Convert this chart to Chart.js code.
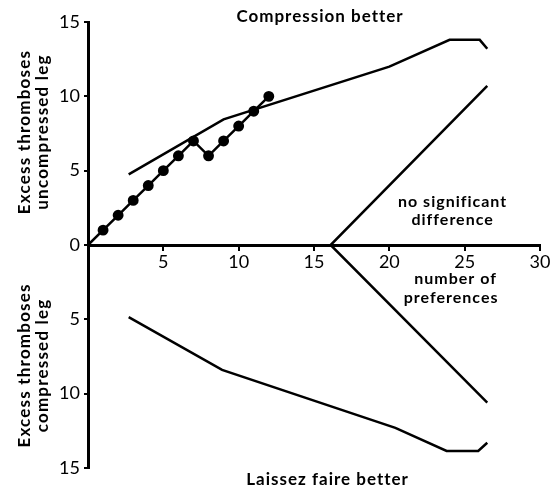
<!DOCTYPE html>
<html>
<head>
<meta charset="utf-8">
<script src="https://cdn.jsdelivr.net/npm/chart.js@4"></script>
<style>
  html, body { margin: 0; padding: 0; background: #fff; }
  #wrap { width: 555px; height: 488px; }
</style>
</head>
<body>
<div id="wrap"><canvas id="chart" width="555" height="488"></canvas></div>
<script>
// Observed path: number of preferences vs cumulative excess thromboses
const observedX = [0, 1, 2, 3, 4, 5, 6, 7, 8, 9, 10, 11, 12];
const observedY = [0, 1, 2, 3, 4, 5, 6, 7, 6, 7, 8, 9, 10];

// Upper boundary (compression better)
const upperX = [2.7, 9, 20, 24, 26, 26.5];
const upperY = [4.75, 8.45, 12, 13.8, 13.8, 13.2];

// Lower boundary (laissez faire better)
const lowerX = [2.7, 8.9, 20.4, 23.8, 25.9, 26.5];
const lowerY = [-4.85, -8.4, -12.3, -13.85, -13.85, -13.3];

// Middle wedge (no significant difference)
const middleX = [26.5, 16.1, 26.5];
const middleY = [10.7, 0, -10.6];

// Axis ticks
const xTicks = [0, 5, 10, 15, 20, 25, 30];
const yTicks = [-15, -10, -5, 0, 5, 10, 15];

const FONT = 'Lato';

function pts(xs, ys) {
    return xs.map((x, i) => ({ x: x, y: ys[i] }));
}

const lineStyle = {
    borderColor: '#000',
    borderWidth: 2.5,
    pointRadius: 0,
    showLine: true,
    tension: 0,
    clip: false
};

// Free text placed in data coordinates
const notes = [
    { text: 'Compression better', x: 15.4, py: 17, size: 17 },
    { text: 'Laissez faire better', x: 15.9, py: 480, size: 17 },
    { text: 'no significant', x: 24.2, y: 2.9, size: 16 },
    { text: 'difference', x: 24.2, y: 1.7, size: 16 },
    { text: 'number of', x: 24.4, y: -2.3, size: 16 },
    { text: 'preferences', x: 24.1, y: -3.55, size: 16 }
];

const sideTitles = [
    { lines: ['Excess thromboses', 'uncompressed leg'], y: 7.6 },
    { lines: ['Excess thromboses', 'compressed leg'], y: -8.1 }
];

const annotations = {
    id: 'annotations',
    afterDraw(chart) {
        const { ctx } = chart;
        const xs = chart.scales.x, ys = chart.scales.y;
        ctx.save();
        ctx.fillStyle = '#000';
        ctx.textAlign = 'center';
        ctx.textBaseline = 'middle';
        ctx.letterSpacing = '1px';
        notes.forEach(n => {
            ctx.font = 'bold ' + n.size + 'px ' + FONT;
            const px = xs.getPixelForValue(n.x);
            const py = n.py !== undefined ? n.py : ys.getPixelForValue(n.y);
            ctx.fillText(n.text, px, py);
        });
        ctx.font = 'bold 17px ' + FONT;
        ctx.letterSpacing = '1.2px';
        sideTitles.forEach(t => {
            const cy = ys.getPixelForValue(t.y);
            t.lines.forEach((line, i) => {
                ctx.save();
                ctx.translate(25 + i * 18, cy);
                ctx.rotate(-Math.PI / 2);
                ctx.fillText(line, 0, 0);
                ctx.restore();
            });
        });
        ctx.restore();
    }
};

new Chart(document.getElementById('chart'), {
    type: 'scatter',
    data: {
        datasets: [
            Object.assign({}, lineStyle, {
                data: pts(observedX, observedY),
                pointRadius: observedX.map(v => v === 0 ? 0 : 4.2),
                pointBackgroundColor: '#000',
                pointBorderColor: '#000'
            }),
            Object.assign({}, lineStyle, { data: pts(upperX, upperY) }),
            Object.assign({}, lineStyle, { data: pts(lowerX, lowerY) }),
            Object.assign({}, lineStyle, { data: pts(middleX, middleY) })
        ]
    },
    options: {
        responsive: false,
        devicePixelRatio: 1,
        animation: false,
        layout: { padding: { top: 22, right: 15, bottom: 20, left: 0 } },
        plugins: {
            legend: { display: false },
            tooltip: { enabled: false }
        },
        scales: {
            x: {
                type: 'linear',
                min: 0,
                max: 30,
                position: { y: 0 },
                afterBuildTicks: s => { s.ticks = xTicks.map(v => ({ value: v })); },
                grid: { drawOnChartArea: false, drawTicks: true, tickLength: 4, color: '#000', lineWidth: 2 },
                border: { display: true, color: '#000', width: 3 },
                ticks: {
                    color: '#000',
                    padding: 2,
                    maxRotation: 0,
                    font: { family: FONT, size: 18 },
                    callback: v => v === 0 ? '' : String(v)
                }
            },
            y: {
                type: 'linear',
                min: -15,
                max: 15,
                position: 'left',
                afterFit: s => { s.width = 88; },
                afterBuildTicks: s => { s.ticks = yTicks.map(v => ({ value: v })); },
                grid: { drawOnChartArea: false, drawTicks: true, tickLength: 4, color: '#000', lineWidth: 2 },
                border: { display: true, color: '#000', width: 3 },
                ticks: {
                    color: '#000',
                    padding: 4,
                    font: { family: FONT, size: 18 },
                    callback: v => String(Math.abs(v))
                }
            }
        }
    },
    plugins: [annotations]
});
</script>
</body>
</html>
